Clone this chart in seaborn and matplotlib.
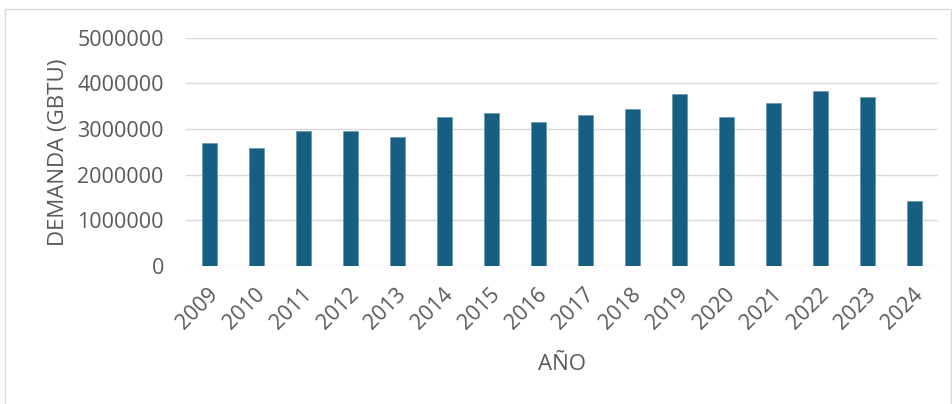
import matplotlib
matplotlib.use("Agg")
import matplotlib.pyplot as plt
import seaborn as sns
import pandas as pd
from matplotlib.patches import Rectangle

years = ["2009", "2010", "2011", "2012", "2013", "2014", "2015", "2016",
         "2017", "2018", "2019", "2020", "2021", "2022", "2023", "2024"]
demanda = [2700000, 2590000, 2956000, 2949000, 2825000, 3270000, 3343000, 3146000,
           3314000, 3430000, 3760000, 3263000, 3562000, 3825000, 3693000, 1430000]
yticks = [0, 1000000, 2000000, 3000000, 4000000, 5000000]

df = pd.DataFrame({"AÑO": years, "DEMANDA": demanda})

sns.set_style("white")
plt.rcParams["font.family"] = ["Open Sans", "DejaVu Sans"]

TXT = "#595959"
fig = plt.figure(figsize=(9.53, 4.04), dpi=100)
ax = fig.add_axes([186/953, 1 - 266/404, (938-186)/953, (266-37.7)/404])

sns.barplot(data=df, x="AÑO", y="DEMANDA", color="#175f82", width=0.32,
            saturation=1, ax=ax, zorder=3, edgecolor="#5e8fa8", linewidth=0.4)

ax.set_ylim(0, 5000000)
ax.set_xlim(-0.5, len(years) - 0.5)
ax.set_yticks(yticks)
ax.set_yticklabels([str(v) for v in yticks])
ax.yaxis.grid(True, color="#d9d9d9", linewidth=1.0, zorder=0)
ax.set_axisbelow(True)
for s in ax.spines.values():
    s.set_visible(False)
ax.tick_params(axis="both", length=0, labelsize=15.5, colors=TXT)
ax.tick_params(axis="y", pad=16)
ax.tick_params(axis="x", pad=6)
plt.setp(ax.get_xticklabels(), rotation=45, ha="right", va="center",
         rotation_mode="anchor")
for lab in ax.get_xticklabels():
    lab.set_transform(lab.get_transform() + matplotlib.transforms.ScaledTranslation(5/100, -17/100, fig.dpi_scale_trans))

ax.set_xlabel("AÑO", fontsize=16, color=TXT, labelpad=15)
ax.set_ylabel("DEMANDA (GBTU)", fontsize=16, color=TXT, labelpad=6)

fig.patches.append(Rectangle((5/953, -0.1), 946/953, 1.1 - 9/404, transform=fig.transFigure,
                             fill=False, edgecolor="#d9d9d9", linewidth=1.0))

fig.savefig("out.png", dpi=100, facecolor="white")
